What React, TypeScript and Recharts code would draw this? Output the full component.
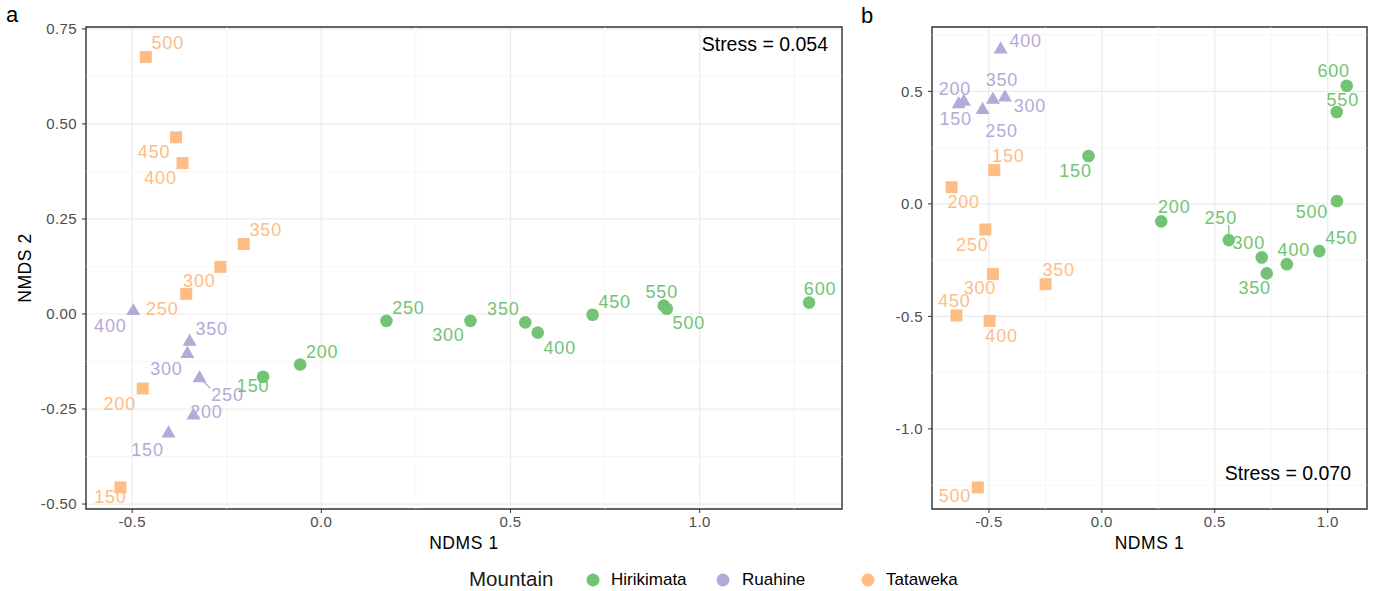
import React from 'react';
import {
  ScatterChart, Scatter, XAxis, YAxis, CartesianGrid, ReferenceLine, ReferenceArea,
} from 'recharts';

// ---------- DATA ----------
const hiriElev = [150, 200, 250, 300, 350, 400, 450, 500, 550, 600];
const ruaElev = [150, 200, 250, 300, 350, 400];
const tataElev = [150, 200, 250, 300, 350, 400, 450, 500];

// Panel a
const hiriA_x = [-0.154, -0.056, 0.172, 0.394, 0.539, 0.572, 0.717, 0.913, 0.905, 1.289];
const hiriA_y = [-0.165, -0.133, -0.018, -0.018, -0.022, -0.049, -0.002, 0.014, 0.022, 0.030];
const ruaA_x = [-0.404, -0.338, -0.322, -0.354, -0.348, -0.497];
const ruaA_y = [-0.312, -0.265, -0.167, -0.103, -0.071, 0.010];
const tataA_x = [-0.531, -0.472, -0.357, -0.267, -0.205, -0.367, -0.384, -0.464];
const tataA_y = [-0.456, -0.196, 0.053, 0.124, 0.184, 0.397, 0.465, 0.676];

// Panel b
const hiriB_x = [-0.059, 0.263, 0.562, 0.708, 0.730, 0.819, 0.963, 1.041, 1.040, 1.084];
const hiriB_y = [0.213, -0.078, -0.161, -0.238, -0.309, -0.268, -0.210, 0.012, 0.408, 0.525];
const ruaB_x = [-0.634, -0.611, -0.528, -0.429, -0.482, -0.448];
const ruaB_y = [0.447, 0.458, 0.421, 0.476, 0.466, 0.690];
const tataB_x = [-0.476, -0.665, -0.516, -0.482, -0.249, -0.497, -0.644, -0.549];
const tataB_y = [0.150, 0.074, -0.114, -0.312, -0.357, -0.520, -0.496, -1.260];

// Ticks
const xTicksA = [-0.5, 0, 0.5, 1.0];
const yTicksA = [-0.5, -0.25, 0, 0.25, 0.5, 0.75];
const xMinorA = [-0.25, 0.25, 0.75, 1.25];
const yMinorA = [-0.375, -0.125, 0.125, 0.375, 0.625];
const xTicksB = [-0.5, 0, 0.5, 1.0];
const yTicksB = [-1.0, -0.5, 0, 0.5];
const xMinorB = [-0.25, 0.25, 0.75];
const yMinorB = [-1.25, -0.75, -0.25, 0.25, 0.75];

const stressA = 'Stress = 0.054';
const stressB = 'Stress = 0.070';
const mountains = ['Hirikimata', 'Ruahine', 'Tataweka'];

// ---------- LAYOUT (label placement, px offsets of label centre) ----------
const labA_hiri: any = { 150: [-10, 9], 200: [22, -13], 250: [22, -13], 300: [-22, 14], 350: [-22, -13], 400: [22, 15], 450: [22, -13], 500: [22, 14], 550: [-2, -14], 600: [11, -14] };
const labA_rua: any = { 150: [-21, 17], 200: [13, -3], 250: [28, 18, 1], 300: [-21, 16], 350: [22, -12], 400: [-23, 16] };
const labA_tata: any = { 150: [-10, 10], 200: [-23, 15], 250: [-24, 15], 300: [-21, 14], 350: [22, -14], 400: [-22, 15], 450: [-22, 15], 500: [22, -14] };
const labB_hiri: any = { 150: [-13, 15], 200: [13, -14], 250: [-8, -22, 1], 300: [-13, -14], 350: [-12, 15], 400: [7, -14], 450: [22, -13], 500: [-25, 11], 550: [6, -12], 600: [-13, -15] };
const labB_rua: any = { 150: [-3, 16], 200: [-9, -12], 250: [19, 22], 300: [25, 9], 350: [9, -19], 400: [25, -8] };
const labB_tata: any = { 150: [14, -14], 200: [12, 15], 250: [-13, 15], 300: [-13, 14], 350: [13, -14], 400: [12, 15], 450: [-2, -14], 500: [-23, 9] };

const GREEN = '#72c474';
const PURPLE = '#b6a9d8';
const ORANGE = '#fdbd85';
const FONT = '"Liberation Sans", Arial, Helvetica, sans-serif';

const build = (xs: number[], ys: number[], el: number[]) =>
  xs.map((x, i) => ({ x, y: ys[i], label: String(el[i]) }));

const makeShape = (kind: string, color: string, offs: any) => (props: any) => {
  const { cx, cy, payload } = props;
  if (cx == null || cy == null) return <g />;
  const o = offs[payload.label] || [15, -12];
  const lx = cx + o[0];
  const ly = cy + o[1];
  let sym;
  if (kind === 'circle') sym = <circle cx={cx} cy={cy} r={6.3} fill={color} />;
  else if (kind === 'square') sym = <rect x={cx - 6} y={cy - 6} width={12} height={12} fill={color} />;
  else {
    const s = 14;
    const h = s * Math.sqrt(3) / 2;
    sym = <polygon points={`${cx},${cy - h * 0.6} ${cx - s / 2},${cy + h * 0.4} ${cx + s / 2},${cy + h * 0.4}`} fill={color} />;
  }
  let seg = null;
  if (o[2]) {
    const hw = 17, hh = 7;
    const nx = Math.max(o[0] - hw, Math.min(0, o[0] + hw));
    const ny = Math.max(o[1] - hh, Math.min(0, o[1] + hh));
    const d = Math.sqrt(nx * nx + ny * ny);
    const sx = (nx / d) * 6, sy = (ny / d) * 6;
    seg = <line x1={cx + sx} y1={cy + sy} x2={cx + nx} y2={cy + ny} stroke={color} strokeWidth={1.2} />;
  }
  return (
    <g>
      {sym}
      {seg}
      <text x={lx} y={ly} fill={color} fontSize={18} textAnchor="middle" dominantBaseline="central" style={{ fontFamily: FONT, letterSpacing: '0.8px' }}>{payload.label}</text>
    </g>
  );
};

const tickStyle = { fill: '#4d4d4d', fontSize: 15, fontFamily: FONT, letterSpacing: '0.4px' };

const Panel = (p: any) => {
  const { width, margin, xDomain, yDomain, xTicks, yTicks, xMinor, yMinor, yFmt, yWidth, yTitle, series } = p;
  return (
    <ScatterChart width={width} height={591} margin={margin}>
      <CartesianGrid stroke="#ebebeb" strokeWidth={1.2} />
      {xMinor.map((v: number) => <ReferenceLine key={'xm' + v} x={v} stroke="#f2f2f2" strokeWidth={0.7} />)}
      {yMinor.map((v: number) => <ReferenceLine key={'ym' + v} y={v} stroke="#f2f2f2" strokeWidth={0.7} />)}
      <XAxis type="number" dataKey="x" domain={xDomain} ticks={xTicks} interval={0} allowDataOverflow
        tickFormatter={(v: number) => v.toFixed(1)} axisLine={false} tickSize={4} tickMargin={3}
        tickLine={{ stroke: '#333' }} tick={tickStyle} height={40}
        label={{ value: 'NDMS 1', position: 'insideBottom', offset: 0, style: { fill: '#000', fontSize: 17.5, fontFamily: FONT, letterSpacing: '0.6px' } }} />
      <YAxis type="number" dataKey="y" domain={yDomain} ticks={yTicks} interval={0} allowDataOverflow
        tickFormatter={(v: number) => v.toFixed(yFmt)} axisLine={false} tickSize={4} tickMargin={5}
        tickLine={{ stroke: '#333' }} tick={tickStyle} width={yWidth}
        label={yTitle ? { value: yTitle, angle: -90, position: 'insideLeft', offset: 11, style: { textAnchor: 'middle', fill: '#000', fontSize: 17.5, fontFamily: FONT, letterSpacing: '0.6px' } } : undefined} />
      {series.map((s: any) => (
        <Scatter key={s.name} name={s.name} data={s.data} isAnimationActive={false} shape={makeShape(s.kind, s.color, s.offs)} />
      ))}
      <ReferenceArea x1={xDomain[0]} x2={xDomain[1]} y1={yDomain[0]} y2={yDomain[1]} fill="none" fillOpacity={0} stroke="#333" strokeWidth={1.4} ifOverflow="visible" />
    </ScatterChart>
  );
};

export default function App() {
  const seriesA = [
    { name: 'Tataweka', kind: 'square', color: ORANGE, offs: labA_tata, data: build(tataA_x, tataA_y, tataElev) },
    { name: 'Ruahine', kind: 'triangle', color: PURPLE, offs: labA_rua, data: build(ruaA_x, ruaA_y, ruaElev) },
    { name: 'Hirikimata', kind: 'circle', color: GREEN, offs: labA_hiri, data: build(hiriA_x, hiriA_y, hiriElev) },
  ];
  const seriesB = [
    { name: 'Tataweka', kind: 'square', color: ORANGE, offs: labB_tata, data: build(tataB_x, tataB_y, tataElev) },
    { name: 'Ruahine', kind: 'triangle', color: PURPLE, offs: labB_rua, data: build(ruaB_x, ruaB_y, ruaElev) },
    { name: 'Hirikimata', kind: 'circle', color: GREEN, offs: labB_hiri, data: build(hiriB_x, hiriB_y, hiriElev) },
  ];
  const legendColors = [GREEN, PURPLE, ORANGE];
  const legendCircleX = [593, 723, 868];
  const legendTextX = [611, 742, 886];
  return (
    <div style={{ position: 'absolute', left: 0, top: 0, width: 1375, height: 591, background: '#fff', fontFamily: FONT }}>
      <div style={{ position: 'absolute', left: 0, top: 0 }}>
        <Panel width={860} margin={{ top: 27, right: 18, bottom: 42, left: 14 }}
          xDomain={[-0.622, 1.376]} yDomain={[-0.513, 0.755]} xTicks={xTicksA} yTicks={yTicksA}
          xMinor={xMinorA} yMinor={yMinorA} yFmt={2} yWidth={72} yTitle="NMDS 2" series={seriesA} />
      </div>
      <div style={{ position: 'absolute', left: 860, top: 0 }}>
        <Panel width={515} margin={{ top: 27, right: 8, bottom: 42, left: 32 }}
          xDomain={[-0.752, 1.174]} yDomain={[-1.356, 0.786]} xTicks={xTicksB} yTicks={yTicksB}
          xMinor={xMinorB} yMinor={yMinorB} yFmt={1} yWidth={40} yTitle={null} series={seriesB} />
      </div>
      <div style={{ position: 'absolute', left: 6, top: 2, fontSize: 22, color: '#000' }}>a</div>
      <div style={{ position: 'absolute', left: 861, top: 3, fontSize: 22, color: '#000' }}>b</div>
      <div style={{ position: 'absolute', right: 1375 - 828, top: 33, fontSize: 19.5, color: '#000', whiteSpace: 'nowrap' }}>{stressA}</div>
      <div style={{ position: 'absolute', right: 1375 - 1351, top: 462, fontSize: 19.5, color: '#000', whiteSpace: 'nowrap' }}>{stressB}</div>
      <div style={{ position: 'absolute', left: 469, top: 568, fontSize: 20.5, color: '#1a1a1a', lineHeight: '22px', whiteSpace: 'nowrap' }}>Mountain</div>
      {mountains.map((m, i) => (
        <React.Fragment key={m}>
          <svg style={{ position: 'absolute', left: legendCircleX[i] - 7, top: 573 }} width={14} height={14}>
            <circle cx={7} cy={7} r={6.5} fill={legendColors[i]} />
          </svg>
          <div style={{ position: 'absolute', left: legendTextX[i], top: 570, fontSize: 17, color: '#000', lineHeight: '20px', whiteSpace: 'nowrap' }}>{m}</div>
        </React.Fragment>
      ))}
    </div>
  );
}
